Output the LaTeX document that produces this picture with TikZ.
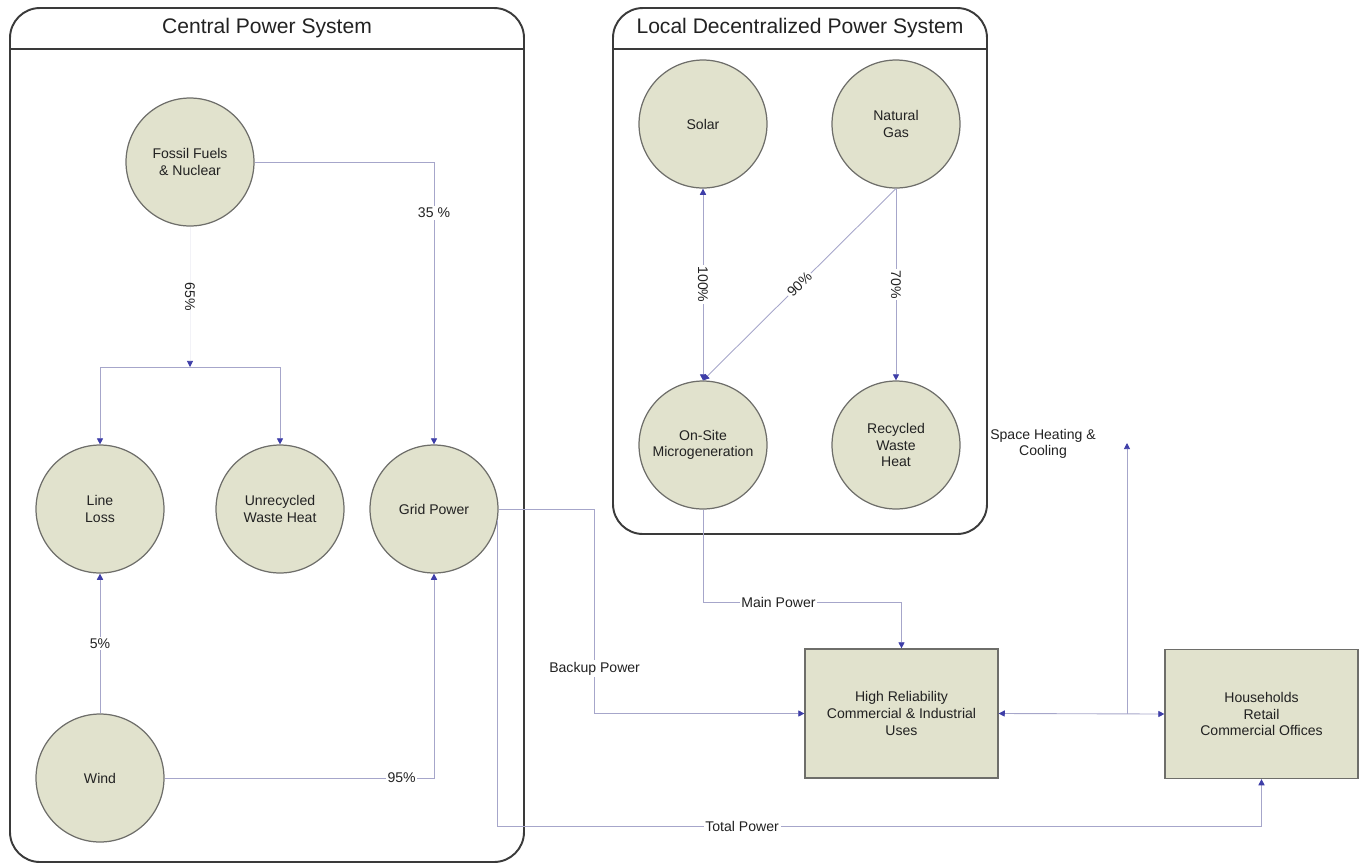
\documentclass[tikz,border=0pt]{standalone}
\usepackage{fontspec}
\setmainfont{Liberation Sans}
\usetikzlibrary{arrows.meta}

\definecolor{nodefill}{HTML}{E1E2CD}
\definecolor{ringgray}{HTML}{6E6E6A}
\definecolor{framegray}{HTML}{3A3A3A}
\definecolor{flowline}{HTML}{A6A6CA}
\definecolor{tipblue}{HTML}{3E3EA8}
\definecolor{textgray}{HTML}{222222}

\begin{document}
\begin{tikzpicture}[
    x=0.02cm, y=-0.02cm,
    every node/.style={font=\fontsize{8}{9.5}\selectfont, text=textgray},
    source/.style={circle, draw=ringgray, fill=nodefill, line width=0.7pt, minimum size=2.56cm, inner sep=0pt, align=center},
    usebox/.style={rectangle, draw=ringgray, fill=nodefill, line width=0.7pt, minimum width=3.86cm, minimum height=2.58cm, align=center},
    system/.style={draw=framegray, line width=1.1pt, rounded corners=0.6cm},
    title/.style={font=\fontsize{12}{14}\selectfont},
    % Connector styles
    flow/.style={draw=flowline, line width=0.5pt, -{Triangle[length=3.5pt,width=3.5pt,color=tipblue]}},
    flowboth/.style={flow, {Triangle[length=3.5pt,width=3.5pt,color=tipblue]}-{Triangle[length=3.5pt,width=3.5pt,color=tipblue]}},
    faint/.style={flow, draw=flowline!15},
    pct/.style={fill=white, inner sep=1pt}
]
\useasboundingbox (0,0) rectangle (1367,867);

% System frames
\draw[system] (10,8) rectangle (524,862);
\draw[framegray, line width=1.1pt] (10,49) -- (524,49);
\node[title] (centraltitle) at (267,28) {Central Power System};

\draw[system] (613,8) rectangle (987,534);
\draw[framegray, line width=1.1pt] (613,49) -- (987,49);
\node[title] (localtitle) at (800,28) {Local Decentralized Power System};

% Sources in the central system
\node[source] (fossil) at (190,162) {Fossil Fuels\\\& Nuclear};
\node[source] (lineloss) at (100,509) {Line\\Loss};
\node[source] (waste) at (280,509) {Unrecycled\\Waste Heat};
\node[source] (grid) at (434,509) {Grid Power};
\node[source] (wind) at (100,778) {Wind};

% Sources in the local system
\node[source] (solar) at (703,124) {Solar};
\node[source] (gas) at (896,124) {Natural\\Gas};
\node[source] (onsite) at (703,445) {On-Site\\Microgeneration};
\node[source] (recycled) at (896,445) {Recycled\\Waste\\Heat};

% Uses
\node[usebox] (reliab) at (901.5,713.5) {High Reliability\\Commercial \& Industrial\\Uses};
\node[usebox] (homes) at (1261.5,714) {Households\\Retail\\Commercial Offices};

% Helper points
\coordinate (split) at (190,367);
\coordinate (mainbase) at (0,602);
\coordinate (totalbase) at (0,826);
\coordinate (heat) at (1127,443);
\node[align=center] (heatlbl) at (1043,444) {Space Heating \&\\Cooling};

% Central flows
\draw[faint] (fossil.south) -- (split) node[midway, sloped, text=textgray] {65\%};
\draw[flow] (split) -| (lineloss.north);
\draw[flow] (split) -| (waste.north);
\draw[flow] (fossil.east) -| node[pos=0.59, pct] {35 \%} (grid.north);
\draw[flow] (wind.north) -- (lineloss.south) node[midway, pct] {5\%};
\draw[flow] (wind.east) -| node[pos=0.44, pct] {95\%} (grid.south);

% Local flows
\draw[flowboth] (solar.south) -- (onsite.north) node[midway, sloped, pct] {100\%};
\draw[flow] (gas.south) -- (onsite.north) node[midway, sloped, pct] {90\%};
\draw[flow] (gas.south) -- (recycled.north) node[midway, sloped, pct] {70\%};

% Power to the uses
\draw[flow] (grid.east) -- ++(96,0) |- node[pos=0.39, pct] {Backup Power} (reliab.west);
\draw[flow] (onsite.south) -- (onsite.south |- mainbase) -| node[pos=0.19, pct] {Main Power} (reliab.north);
\draw[flow] (grid.-10) -- (grid.-10 |- totalbase) -| node[pos=0.16, pct] {Total Power} (homes.south);
\draw[flowboth] (reliab.east) -- (homes.west);
\draw[flow] (reliab.east -| heat) -- (heat);

\end{tikzpicture}
\end{document}
